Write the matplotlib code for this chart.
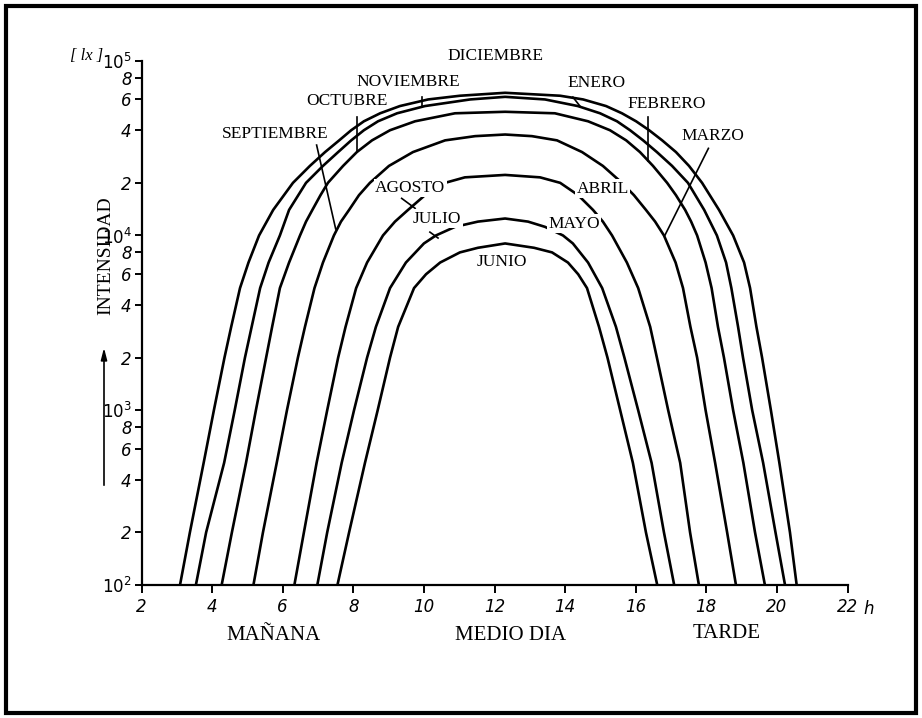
import matplotlib
matplotlib.use('Agg')
import matplotlib.pyplot as plt
from matplotlib.patches import Rectangle

# hour of day [h] and illuminance [lx] (outer to inner)
dic_h = [3.09, 3.37, 3.76, 4.05, 4.35, 4.54, 4.79, 5.03, 5.33, 5.73, 6.29, 6.77, 7.20, 7.60, 7.94,
         8.30, 8.76, 9.32, 10.12, 11.02, 12.30, 13.86, 14.51, 15.16, 15.61, 16.01, 16.38, 16.75,
         17.14, 17.51, 17.88, 18.36, 18.76, 19.07, 19.24, 19.42, 19.58, 19.83, 20.07, 20.37, 20.56]
dic_lx = [100, 200, 500, 1000, 2000, 3000, 5000, 7000, 10000, 14000, 20000, 25000, 30000, 35000,
          40000, 45000, 50000, 55000, 60000, 63000, 65500, 63000, 60000, 55000, 50000, 45000, 40000,
          35000, 30000, 25000, 20000, 14000, 10000, 7000, 5000, 3000, 2000, 1000, 500, 200, 100]

nov_h = [3.54, 3.83, 4.34, 4.64, 4.93, 5.12, 5.36, 5.60, 5.92, 6.18, 6.66, 7.14, 7.57, 7.94, 8.30,
         8.70, 9.24, 10.03, 11.31, 12.30, 13.43, 14.36, 14.99, 15.47, 15.84, 16.21, 16.60, 17.03,
         17.48, 17.94, 18.30, 18.56, 18.71, 18.90, 19.04, 19.30, 19.61, 19.96, 20.23]
nov_lx = [100, 200, 500, 1000, 2000, 3000, 5000, 7000, 10000, 14000, 20000, 25000, 30000, 35000,
          40000, 45000, 50000, 55000, 60000, 62100, 60000, 55000, 50000, 45000, 40000, 35000, 30000,
          25000, 20000, 14000, 10000, 7000, 5000, 3000, 2000, 1000, 500, 200, 100]

oct_h = [4.27, 4.56, 4.96, 5.24, 5.53, 5.70, 5.92, 6.18, 6.49, 6.66, 6.84, 7.07, 7.28, 7.71, 8.10,
         8.53, 9.04, 9.75, 10.88, 12.30, 13.71, 14.65, 15.27, 15.73, 16.12, 16.49, 16.89, 17.14,
         17.40, 17.57, 17.74, 17.98, 18.15, 18.33, 18.50, 18.76, 19.05, 19.38, 19.66]
oct_lx = [100, 200, 500, 1000, 2000, 3000, 5000, 7000, 10000, 12000, 14000, 17000, 20000, 25000,
          30000, 35000, 40000, 45000, 50000, 51000, 50000, 45000, 40000, 35000, 30000, 25000, 20000,
          17000, 14000, 12000, 10000, 7000, 5000, 3000, 2000, 1000, 500, 200, 100]

sep_h = [5.17, 5.44, 5.83, 6.12, 6.43, 6.63, 6.90, 7.14, 7.45, 7.65, 7.88, 8.16, 8.47, 9.01,
         9.69, 10.60, 11.45, 12.30, 13.06, 13.77, 14.48, 15.07, 15.61, 15.95, 16.29, 16.55, 16.80,
         17.13, 17.34, 17.55, 17.74, 17.98, 18.25, 18.59, 18.84]
sep_lx = [100, 200, 500, 1000, 2000, 3000, 5000, 7000, 10000, 12000, 14000, 17000, 20000, 25000,
          30000, 35000, 37000, 37800, 37000, 35000, 30000, 25000, 20000, 17000, 14000, 12000, 10000,
          7000, 5000, 3000, 2000, 1000, 500, 200, 100]

ago_h = [6.33, 6.60, 6.96, 7.26, 7.57, 7.78, 8.08, 8.39, 8.84, 9.18, 9.55, 10.03, 10.60, 11.16,
         12.30, 13.29, 13.86, 14.37, 14.79, 15.07, 15.33, 15.75, 16.07, 16.41, 16.60, 16.92, 17.26,
         17.54, 17.79]
ago_lx = [100, 200, 500, 1000, 2000, 3000, 5000, 7000, 10000, 12000, 14000, 17000, 20000, 21500,
          22200, 21500, 20000, 17000, 14000, 12000, 10000, 7000, 5000, 3000, 2000, 1000, 500,
          200, 100]

jul_h = [6.98, 7.26, 7.67, 8.02, 8.39, 8.64, 9.04, 9.49, 10.00, 10.34, 10.88, 11.53, 12.30,
         12.95, 13.43, 13.94, 14.22, 14.65, 15.05, 15.44, 15.68, 16.07, 16.45, 16.80, 17.09]
jul_lx = [100, 200, 500, 1000, 2000, 3000, 5000, 7000, 9000, 10000, 11200, 12000, 12500,
          12000, 11200, 10000, 9000, 7000, 5000, 3000, 2000, 1000, 500, 200, 100]

jun_h = [7.55, 7.88, 8.33, 8.69, 9.04, 9.27, 9.72, 10.06, 10.46, 11.02, 11.53, 12.30, 13.12,
         13.63, 14.08, 14.37, 14.62, 14.96, 15.20, 15.56, 15.92, 16.29, 16.61]
jun_lx = [100, 200, 500, 1000, 2000, 3000, 5000, 6000, 7000, 8000, 8500, 9000, 8500,
          8000, 7000, 6000, 5000, 3000, 2000, 1000, 500, 200, 100]

curves = [(dic_h, dic_lx), (nov_h, nov_lx), (oct_h, oct_lx), (sep_h, sep_lx),
          (ago_h, ago_lx), (jul_h, jul_lx), (jun_h, jun_lx)]

x_ticks = [2, 4, 6, 8, 10, 12, 14, 16, 18, 20, 22]
y_ticks = [100, 200, 400, 600, 800, 1000, 2000, 4000, 6000, 8000,
           10000, 20000, 40000, 60000, 80000, 100000]
y_labels = [r'$\mathit{10^2}$', '2', '4', '6', '8', r'$\mathit{10^3}$', '2', '4', '6', '8',
            r'$\mathit{10^4}$', '2', '4', '6', '8', r'$\mathit{10^5}$']

# month labels: text, position (h, lx), white box that cuts the curve
month_labels = [
    ('DICIEMBRE', 12.04, 106000, False),
    ('NOVIEMBRE', 9.55, 75500, False),
    ('OCTUBRE', 7.82, 58800, False),
    ('SEPTIEMBRE', 5.78, 38300, False),
    ('ENERO', 14.88, 74500, False),
    ('FEBRERO', 16.89, 56500, False),
    ('MARZO', 18.19, 37300, False),
    ('AGOSTO', 9.61, 18700, True),
    ('ABRIL', 15.07, 18500, True),
    ('JULIO', 10.37, 12500, True),
    ('MAYO', 14.25, 11700, True),
    ('JUNIO', 12.21, 7050, False),
]
# leader lines from label to curve
leaders = [
    ((9.94, 62100), (9.94, 54400)),
    ((8.10, 47700), (8.10, 30100)),
    ((6.96, 32900), (7.50, 10900)),
    ((14.22, 61900), (14.42, 55000)),
    ((16.36, 47700), (16.36, 26500)),
    ((18.06, 31500), (16.83, 10050)),
    ((9.37, 16300), (9.75, 14300)),
    ((10.17, 10450), (10.40, 9670)),
]

serif = 'Liberation Serif'
fig = plt.figure(figsize=(9.22, 7.18), dpi=100)
ax = fig.add_axes([0.1535, 0.1852, 0.7657, 0.7303])

for h, lx in curves:
    ax.plot(h, lx, color='black', lw=1.9, solid_joinstyle='round', zorder=2)

for (x0, y0), (x1, y1) in leaders:
    ax.plot([x0, x1], [y0, y1], color='black', lw=1.2, clip_on=False, zorder=3)

for txt, x, y, boxed in month_labels:
    kw = {}
    if boxed:
        kw['bbox'] = dict(facecolor='white', edgecolor='none', pad=1.0)
    ax.text(x, y, txt, ha='center', va='center', fontsize=12.5, family=serif,
            zorder=4, clip_on=False, **kw)

ax.set_yscale('log')
ax.set_xlim(2, 22)
ax.set_ylim(100, 100000)
ax.set_xticks(x_ticks)
ax.set_xticklabels([str(t) for t in x_ticks], fontstyle='italic', fontsize=12)
ax.set_yticks(y_ticks)
ax.set_yticklabels(y_labels, fontstyle='italic', fontsize=12)
ax.yaxis.set_minor_locator(plt.NullLocator())
ax.tick_params(axis='both', direction='out', length=5, width=1.4, color='black', pad=2)
ax.tick_params(axis='x', length=6, pad=3)
for s in ['top', 'right']:
    ax.spines[s].set_visible(False)
for s in ['left', 'bottom']:
    ax.spines[s].set_linewidth(1.6)

# unit after the last hour tick
ax.annotate('h', xy=(22.45, 100), xytext=(0, -11), textcoords='offset points',
            ha='left', va='top', fontsize=12, fontstyle='italic', annotation_clip=False)

# bottom captions
fig.text(273 / 922, 1 - 636 / 718, 'MAÑANA', ha='center', va='center', fontsize=15, family=serif)
fig.text(511 / 922, 1 - 636 / 718, 'MEDIO DIA', ha='center', va='center', fontsize=15, family=serif)
fig.text(727 / 922, 1 - 634 / 718, 'TARDE', ha='center', va='center', fontsize=15, family=serif)

# y axis caption and arrow
fig.text(106 / 922, 1 - 256 / 718, 'INTENSIDAD', rotation=90, ha='center', va='center',
         fontsize=14, family=serif)
fig.text(87 / 922, 1 - 56 / 718, '[ lx ]', ha='center', va='center', fontsize=12,
         family=serif, fontstyle='italic')
ax.annotate('', xy=(104 / 922, 1 - 345 / 718), xytext=(104 / 922, 1 - 488 / 718),
            xycoords='figure fraction', textcoords='figure fraction',
            arrowprops=dict(arrowstyle='-|>,head_length=0.7,head_width=0.18',
                            color='black', lw=1.2))

# page frame
fig.add_artist(Rectangle((6 / 922, 5 / 718), 910 / 922, 707.5 / 718, transform=fig.transFigure,
                         fill=False, edgecolor='black', lw=3))

fig.savefig('out.png', dpi=100)
